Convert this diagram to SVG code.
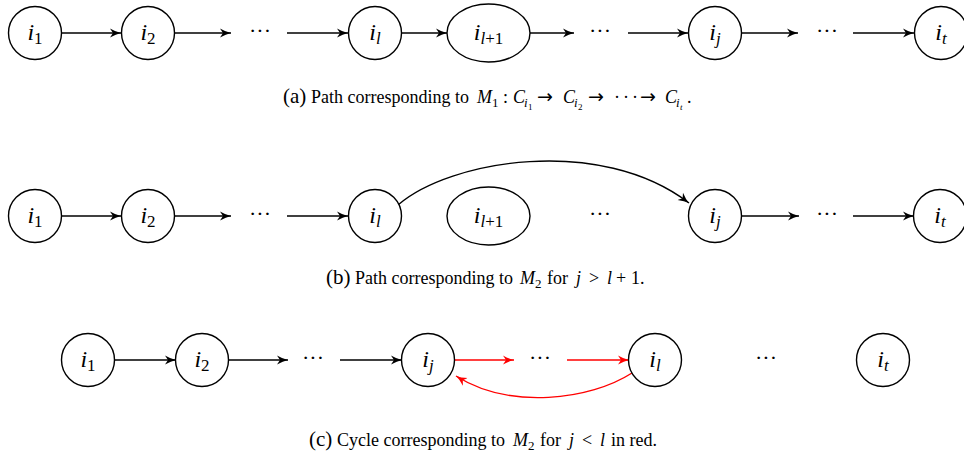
<svg xmlns="http://www.w3.org/2000/svg" width="964" height="457" viewBox="0 0 964 457">
<style>
  .nd { fill: #fff; stroke: #000; stroke-width: 1.4; }
  .lb { font-size: 24px; fill: #000; }
  .it { font-style: italic; }
  .sb { font-size: 17px; }
  .dots { font-size: 22px; fill: #000; text-anchor: middle; }
  .ed { fill: none; stroke: #000; stroke-width: 1.4; marker-end: url(#ar); }
  .red { stroke: #f00; marker-end: url(#arr); }
  .cap { font-size: 18px; fill: #000; }
  .capl { font-size: 21px; }
  .s1 { font-size: 13px; }
  .s2 { font-size: 9px; }
  .arw { font-family: "DejaVu Sans", "Liberation Serif", sans-serif; font-size: 19px; }
</style>
<defs>
  <marker id="ar" markerWidth="13" markerHeight="11" refX="11" refY="5.5" orient="auto" markerUnits="userSpaceOnUse">
    <path d="M0,1 Q6,4.5 11,5.5 Q6,6.5 0,10 L3,5.5 Z" fill="#000"/>
  </marker>
  <marker id="arr" markerWidth="13" markerHeight="11" refX="11" refY="5.5" orient="auto" markerUnits="userSpaceOnUse">
    <path d="M0,1 Q6,4.5 11,5.5 Q6,6.5 0,10 L3,5.5 Z" fill="#f00"/>
  </marker>
</defs>
<rect width="964" height="457" fill="#fff"/>
<g font-family="'Liberation Serif', 'Times New Roman', Times, serif">

<!-- Row (a) -->
<g id="connectors-a">
  <path class="ed" d="M61,33 H121"/>
  <path class="ed" d="M175,33 H231"/>
  <path class="ed" d="M287,33 H348"/>
  <path class="ed" d="M402,33 H447"/>
  <path class="ed" d="M530,33 H574"/>
  <path class="ed" d="M628,33 H688"/>
  <path class="ed" d="M742,33 H798"/>
  <path class="ed" d="M853,33 H914"/>
</g>
<g id="a-i1"><circle class="nd" cx="35" cy="33" r="26.5"/><text class="lb" x="35" y="40" text-anchor="middle"><tspan class="it">i</tspan><tspan class="sb" dy="4">1</tspan></text></g>
<g id="a-i2"><circle class="nd" cx="148" cy="33" r="26.5"/><text class="lb" x="148" y="40" text-anchor="middle"><tspan class="it">i</tspan><tspan class="sb" dy="4">2</tspan></text></g>
<g id="a-d1"><text class="dots" x="260" y="38">···</text></g>
<g id="a-il"><circle class="nd" cx="375" cy="33" r="26.5"/><text class="lb" x="375" y="40" text-anchor="middle"><tspan class="it">i</tspan><tspan class="sb it" dy="4">l</tspan></text></g>
<g id="a-il1"><ellipse class="nd" cx="488.5" cy="33" rx="41.5" ry="29"/><text class="lb" x="488.5" y="40" text-anchor="middle"><tspan class="it">i</tspan><tspan class="sb it" dy="4">l</tspan><tspan class="sb">+1</tspan></text></g>
<g id="a-d2"><text class="dots" x="600" y="38">···</text></g>
<g id="a-ij"><circle class="nd" cx="715" cy="33" r="26.5"/><text class="lb" x="715" y="40" text-anchor="middle"><tspan class="it">i</tspan><tspan class="sb it" dy="4">j</tspan></text></g>
<g id="a-d3"><text class="dots" x="827" y="38">···</text></g>
<g id="a-it"><circle class="nd" cx="941" cy="33" r="26.5"/><text class="lb" x="941" y="40" text-anchor="middle"><tspan class="it">i</tspan><tspan class="sb it" dy="4">t</tspan></text></g>
<text class="cap" y="103"><tspan class="capl" x="283">(a)</tspan><tspan x="311">Path corresponding to</tspan><tspan class="it" x="477">M</tspan><tspan class="s1" x="492" y="107">1</tspan><tspan x="503" y="103">:</tspan><tspan class="it" x="513">C</tspan><tspan class="s1 it" x="524" y="107">i</tspan><tspan class="s2" x="528" y="110">1</tspan><tspan class="arw" x="537" y="103">→</tspan><tspan class="it" x="563">C</tspan><tspan class="s1 it" x="574" y="107">i</tspan><tspan class="s2" x="578" y="110">2</tspan><tspan class="arw" x="588" y="103">→</tspan><tspan x="614" letter-spacing="3">···</tspan><tspan class="arw" x="640">→</tspan><tspan class="it" x="665">C</tspan><tspan class="s1 it" x="676" y="107">i</tspan><tspan class="s2 it" x="680" y="110">t</tspan><tspan x="687" y="103">.</tspan></text>

<!-- Row (b) -->
<g id="connectors-b">
  <path class="ed" d="M61,216 H121"/>
  <path class="ed" d="M175,216 H231"/>
  <path class="ed" d="M287,216 H348"/>
  <path class="ed" d="M398,205 C450,160 600,135 689,203"/>
  <path class="ed" d="M742,216 H799"/>
  <path class="ed" d="M853,216 H914"/>
</g>
<g id="b-i1"><circle class="nd" cx="35" cy="216" r="26.5"/><text class="lb" x="35" y="223" text-anchor="middle"><tspan class="it">i</tspan><tspan class="sb" dy="4">1</tspan></text></g>
<g id="b-i2"><circle class="nd" cx="148" cy="216" r="26.5"/><text class="lb" x="148" y="223" text-anchor="middle"><tspan class="it">i</tspan><tspan class="sb" dy="4">2</tspan></text></g>
<g id="b-d1"><text class="dots" x="260" y="221">···</text></g>
<g id="b-il"><circle class="nd" cx="375" cy="216" r="26.5"/><text class="lb" x="375" y="223" text-anchor="middle"><tspan class="it">i</tspan><tspan class="sb it" dy="4">l</tspan></text></g>
<g id="b-il1"><ellipse class="nd" cx="488.5" cy="216" rx="41.5" ry="29"/><text class="lb" x="488.5" y="223" text-anchor="middle"><tspan class="it">i</tspan><tspan class="sb it" dy="4">l</tspan><tspan class="sb">+1</tspan></text></g>
<g id="b-d2"><text class="dots" x="600" y="221">···</text></g>
<g id="b-ij"><circle class="nd" cx="715" cy="216" r="26.5"/><text class="lb" x="715" y="223" text-anchor="middle"><tspan class="it">i</tspan><tspan class="sb it" dy="4">j</tspan></text></g>
<g id="b-d3"><text class="dots" x="827" y="221">···</text></g>
<g id="b-it"><circle class="nd" cx="940" cy="216" r="26.5"/><text class="lb" x="940" y="223" text-anchor="middle"><tspan class="it">i</tspan><tspan class="sb it" dy="4">t</tspan></text></g>
<text class="cap" y="284"><tspan class="capl" x="326">(b)</tspan><tspan x="355">Path corresponding to</tspan><tspan class="it" x="520">M</tspan><tspan class="s1" x="535" y="288">2</tspan><tspan x="547" y="284">for</tspan><tspan class="it" x="576">j</tspan><tspan x="589">&gt;</tspan><tspan class="it" x="607">l</tspan><tspan x="616">+</tspan><tspan x="631">1.</tspan></text>

<!-- Row (c) -->
<g id="connectors-c">
  <path class="ed" d="M114,360 H176"/>
  <path class="ed" d="M228,360 H288"/>
  <path class="ed" d="M340,360 H402"/>
  <path class="ed red" d="M454,360 H514"/>
  <path class="ed red" d="M567,360 H629"/>
  <path class="ed red" d="M632,373 C590,400 510,410 456,376"/>
</g>
<g id="c-i1"><circle class="nd" cx="88" cy="360" r="26.5"/><text class="lb" x="88" y="367" text-anchor="middle"><tspan class="it">i</tspan><tspan class="sb" dy="4">1</tspan></text></g>
<g id="c-i2"><circle class="nd" cx="202" cy="360" r="26.5"/><text class="lb" x="202" y="367" text-anchor="middle"><tspan class="it">i</tspan><tspan class="sb" dy="4">2</tspan></text></g>
<g id="c-d1"><text class="dots" x="313" y="365">···</text></g>
<g id="c-ij"><circle class="nd" cx="428" cy="360" r="26.5"/><text class="lb" x="428" y="367" text-anchor="middle"><tspan class="it">i</tspan><tspan class="sb it" dy="4">j</tspan></text></g>
<g id="c-d2"><text class="dots" x="540" y="365">···</text></g>
<g id="c-il"><circle class="nd" cx="655" cy="360" r="26.5"/><text class="lb" x="655" y="367" text-anchor="middle"><tspan class="it">i</tspan><tspan class="sb it" dy="4">l</tspan></text></g>
<g id="c-d3"><text class="dots" x="766" y="365">···</text></g>
<g id="c-it"><circle class="nd" cx="883" cy="360" r="26.5"/><text class="lb" x="883" y="367" text-anchor="middle"><tspan class="it">i</tspan><tspan class="sb it" dy="4">t</tspan></text></g>
<text class="cap" y="446"><tspan class="capl" x="309">(c)</tspan><tspan x="337">Cycle corresponding to</tspan><tspan class="it" x="513">M</tspan><tspan class="s1" x="528" y="450">2</tspan><tspan x="540" y="446">for</tspan><tspan class="it" x="569">j</tspan><tspan x="582">&lt;</tspan><tspan class="it" x="600">l</tspan><tspan x="611">in red.</tspan></text>
</g>
</svg>
